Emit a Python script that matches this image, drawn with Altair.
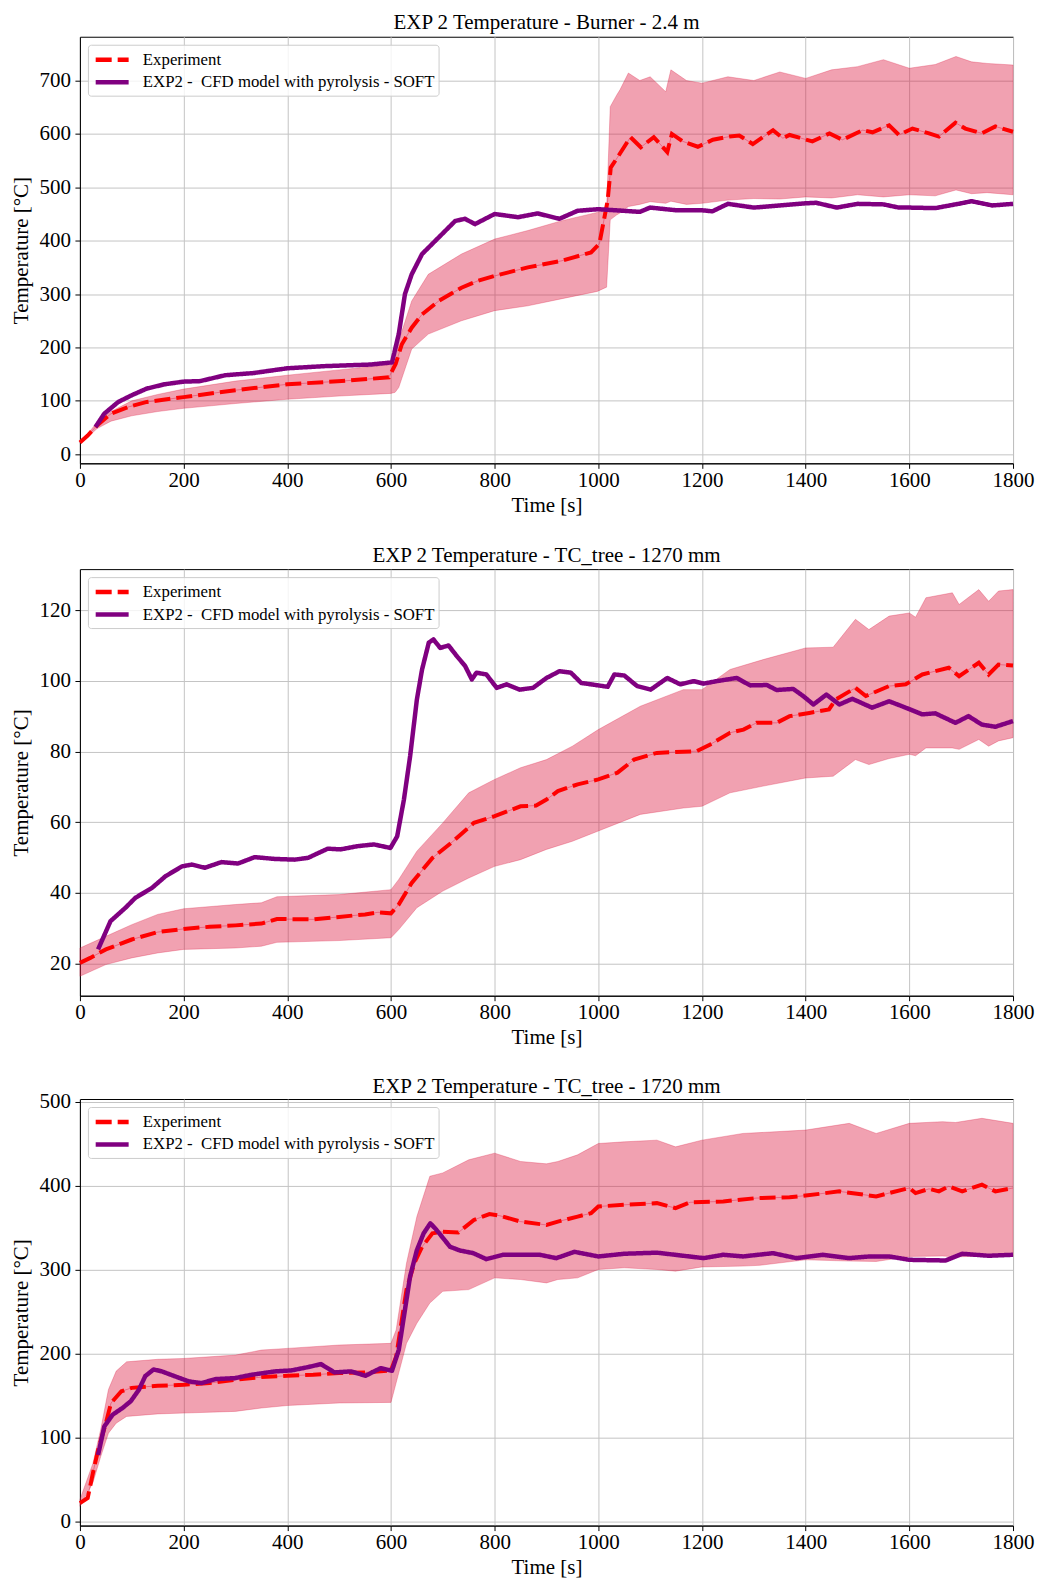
import altair as alt
import pandas as pd

EXP_NAME = "Experiment"
CFD_NAME = "EXP2 - \u00a0CFD model with pyrolysis - SOFT"

# ---------------- Panel 1 : Burner - 2.4 m ----------------
p1_exp_t = [0, 15, 33, 60, 95, 129, 200, 300, 400, 505, 596, 609, 621, 640, 660, 692, 736, 768, 800, 864, 928, 986, 1002, 1018, 1024, 1037, 1062, 1082, 1107, 1133, 1142, 1163, 1192, 1221, 1253, 1272, 1298, 1337, 1356, 1369, 1413, 1446, 1471, 1510, 1529, 1561, 1580, 1606, 1638, 1657, 1689, 1708, 1740, 1766, 1800]
p1_exp_v = [22, 35, 54, 76, 89, 98, 107, 120, 131, 137, 144, 169, 206, 237, 262, 287, 312, 325, 334, 350, 362, 378, 394, 475, 537, 556, 594, 575, 594, 566, 600, 586, 576, 589, 595, 597, 581, 607, 592, 598, 586, 601, 589, 607, 603, 616, 598, 610, 601, 595, 621, 610, 601, 614, 604]
p1_band_t = [0, 15, 33, 60, 100, 150, 200, 300, 400, 500, 600, 608, 615, 640, 672, 736, 800, 864, 928, 998, 1016, 1023, 1035, 1042, 1058, 1080, 1100, 1130, 1140, 1170, 1200, 1250, 1300, 1350, 1400, 1450, 1500, 1550, 1600, 1650, 1690, 1720, 1750, 1800]
p1_band_lo = [21, 32, 48, 62, 72, 80, 86, 95, 103, 109, 114, 116, 125, 197, 225, 250, 269, 278, 291, 305, 313, 439, 448, 452, 464, 468, 473, 470, 474, 468, 470, 476, 479, 478, 482, 480, 486, 482, 486, 484, 495, 488, 490, 486]
p1_band_hi = [23, 38, 60, 80, 100, 112, 122, 137, 148, 158, 168, 172, 212, 287, 337, 375, 403, 419, 437, 453, 460, 651, 672, 683, 714, 700, 707, 679, 720, 700, 695, 707, 700, 716, 704, 720, 726, 739, 723, 730, 745, 735, 732, 729]
p1_cfd_t = [30, 47, 74, 101, 129, 163, 200, 232, 280, 334, 400, 471, 560, 602, 615, 627, 640, 660, 692, 724, 743, 762, 800, 845, 883, 925, 960, 1000, 1080, 1100, 1150, 1200, 1220, 1250, 1300, 1400, 1420, 1460, 1500, 1550, 1580, 1600, 1650, 1700, 1720, 1760, 1800]
p1_cfd_v = [51, 76, 98, 111, 123, 131, 136, 137, 148, 152, 161, 165, 168, 172, 225, 300, 337, 375, 406, 437, 441, 431, 450, 444, 451, 441, 456, 459, 454, 462, 457, 457, 455, 469, 462, 470, 471, 462, 469, 468, 462, 462, 461, 470, 474, 466, 469]

# ---------------- Panel 2 : TC_tree - 1270 mm ----------------
p2_exp_t = [0, 20, 50, 100, 150, 200, 250, 300, 350, 380, 450, 500, 550, 575, 600, 615, 640, 680, 720, 760, 800, 850, 880, 900, 922, 960, 1000, 1037, 1069, 1113, 1190, 1216, 1254, 1280, 1305, 1344, 1369, 1407, 1445, 1458, 1496, 1516, 1561, 1593, 1625, 1676, 1696, 1734, 1753, 1772, 1800]
p2_exp_v = [20.2, 21.6, 24, 26.8, 28.9, 29.8, 30.4, 30.8, 31.3, 32.6, 32.5, 33.2, 33.9, 34.5, 34.2, 36.7, 42.8, 49.9, 54.6, 59.8, 61.7, 64.5, 64.7, 66.4, 68.8, 70.7, 72.1, 74, 77.7, 79.6, 80.1, 82, 85.3, 86.2, 88.1, 88.1, 90, 90.9, 91.9, 94.7, 98, 95.7, 98.5, 99, 101.8, 103.7, 101.3, 105.1, 101.8, 104.6, 104.3]
p2_band_t = [0, 50, 100, 150, 200, 300, 350, 380, 500, 600, 615, 650, 700, 750, 800, 850, 900, 950, 1000, 1081, 1164, 1200, 1254, 1318, 1400, 1453, 1496, 1522, 1561, 1600, 1612, 1632, 1683, 1696, 1734, 1753, 1772, 1800]
p2_band_lo = [16.4, 19.7, 21.6, 23, 24, 24.4, 24.9, 26, 26.5, 27.3, 29.6, 35.8, 40.5, 44.2, 47.5, 49.4, 52.3, 54.6, 57.5, 62.2, 64, 64.5, 68.3, 70.2, 72.5, 73, 77.7, 76.3, 78, 79.2, 78.8, 81, 81, 80.6, 83.4, 81.5, 83, 83.9]
p2_band_hi = [24.4, 27.7, 31, 33.9, 35.5, 36.7, 37.2, 38.9, 39.5, 40.9, 43.8, 51.8, 59.8, 68.3, 72.1, 75.4, 77.7, 81.5, 86.2, 92.8, 97.5, 97.5, 103.2, 106, 109.3, 109.5, 117.4, 114.5, 118.3, 119.2, 118, 123.5, 124.9, 121.6, 125.8, 122.5, 125.4, 125.8]
p2_cfd_t = [35, 59, 88, 107, 139, 165, 197, 216, 241, 273, 305, 337, 376, 414, 440, 478, 503, 535, 567, 599, 612, 625, 637, 650, 660, 673, 682, 695, 711, 727, 743, 756, 765, 784, 804, 823, 848, 874, 900, 925, 947, 967, 1000, 1018, 1031, 1050, 1075, 1101, 1133, 1158, 1184, 1203, 1228, 1267, 1293, 1325, 1344, 1376, 1395, 1415, 1440, 1465, 1490, 1528, 1561, 1586, 1625, 1650, 1689, 1714, 1740, 1766, 1800]
p2_cfd_v = [24, 32, 35.8, 38.6, 41.4, 44.7, 47.5, 48, 47.1, 48.7, 48.3, 50.1, 49.6, 49.4, 49.9, 52.5, 52.3, 53.2, 53.7, 52.7, 56, 66.4, 78.7, 94.7, 103.2, 110.8, 111.7, 109.3, 110, 107, 104.2, 100.4, 102.3, 101.8, 98, 99, 97.5, 98, 100.8, 102.7, 102.3, 99.4, 98.7, 98.3, 101.8, 101.5, 98.5, 97.5, 100.8, 99, 99.9, 99.2, 99.9, 100.8, 98.7, 98.8, 97.4, 97.7, 95.7, 93.3, 96.1, 93.3, 94.9, 92.4, 94.2, 92.8, 90.5, 90.8, 88.1, 90, 87.6, 87, 88.6]

# ---------------- Panel 3 : TC_tree - 1720 mm ----------------
p3_exp_t = [0, 15, 25, 35, 50, 60, 80, 100, 150, 200, 250, 300, 350, 400, 450, 500, 550, 600, 610, 620, 630, 645, 660, 680, 700, 730, 760, 790, 810, 850, 900, 922, 960, 986, 1000, 1050, 1113, 1149, 1177, 1241, 1305, 1369, 1400, 1465, 1536, 1561, 1600, 1612, 1638, 1657, 1676, 1702, 1740, 1766, 1800]
p3_exp_v = [21.8, 27.8, 57.5, 85, 117, 141, 155, 159, 161.5, 162.7, 164.7, 168.7, 171.8, 173.4, 174.6, 176.6, 177.4, 179.8, 196, 236, 276, 307.5, 327, 343, 345, 344, 359, 366, 364, 357, 353, 357, 363, 367, 375, 377, 379, 373, 380, 381, 385, 386, 388, 393, 387, 391, 397, 391, 396, 393, 399, 393, 401, 393, 397]
p3_band_t = [0, 25, 40, 55, 70, 90, 150, 200, 300, 350, 400, 500, 600, 610, 630, 650, 675, 700, 750, 800, 850, 900, 922, 960, 1000, 1050, 1113, 1149, 1200, 1279, 1312, 1400, 1484, 1536, 1600, 1664, 1689, 1740, 1800]
p3_band_lo = [18, 46, 77, 105, 117, 125, 128, 129, 131, 135, 138, 141, 141.7, 165, 212, 236, 260, 274, 276, 290, 288, 284, 288, 290, 300, 302, 300, 298, 303, 304, 305, 311.5, 310, 309.5, 315.5, 316, 315, 316, 315.5]
p3_band_hi = [26, 69, 109, 157, 179, 190, 193, 194, 198, 204, 206, 210, 212, 228, 307.5, 363, 411, 415, 430.6, 438.5, 428.6, 425.8, 428.6, 436.5, 450, 452, 454, 446, 454, 462, 463, 466, 474, 462, 474, 476, 475, 480, 474]
p3_cfd_t = [35, 47, 63, 82, 98, 114, 126, 142, 158, 184, 210, 235, 261, 299, 331, 376, 408, 440, 465, 491, 523, 551, 580, 602, 615, 628, 637, 650, 663, 676, 688, 714, 733, 759, 784, 816, 855, 887, 919, 954, 1000, 1050, 1113, 1203, 1241, 1279, 1337, 1382, 1433, 1484, 1523, 1561, 1600, 1670, 1702, 1753, 1800]
p3_cfd_v = [79, 113, 127, 135, 143, 157, 173, 181, 178.6, 172.6, 166.7, 164.7, 169.4, 170.6, 174.6, 178.6, 179.8, 183.7, 187.3, 177.4, 178.6, 173.4, 182.5, 179.4, 204, 256, 292, 323, 343, 355, 347, 327, 322.6, 319.4, 312.3, 317.5, 317.5, 317.5, 313.5, 321, 315.5, 318.7, 320, 313.5, 317.5, 315.5, 319.4, 313.5, 317.5, 313.5, 315.5, 315.5, 311.5, 310.7, 318.7, 316.3, 317.5]

titles = [
    "EXP 2 Temperature - Burner - 2.4 m",
    "EXP 2 Temperature - TC_tree - 1270 mm",
    "EXP 2 Temperature - TC_tree - 1720 mm",
]
y_domains = [[-17, 782], [10.9, 131.6], [-5, 503]]
y_ticks = [[0, 100, 200, 300, 400, 500, 600, 700],
           [20, 40, 60, 80, 100, 120],
           [0, 100, 200, 300, 400, 500]]
title_offsets = [3.5, 3.5, -6]
x_ticks = [0, 200, 400, 600, 800, 1000, 1200, 1400, 1600, 1800]

FONT = "Liberation Serif"
W, H = 934, 427


def panel(title, et, ev, bt, blo, bhi, ct, cv, ydom, yt, toff):
    exp_df = pd.DataFrame({"t": et, "v": ev, "series": EXP_NAME})
    cfd_df = pd.DataFrame({"t": ct, "v": cv, "series": CFD_NAME})
    band_df = pd.DataFrame({"t": bt, "lo": blo, "hi": bhi})

    x = alt.X("t:Q", scale=alt.Scale(domain=[0, 1800], nice=False),
              axis=alt.Axis(values=x_ticks, title="Time [s]", format="d"))
    y = alt.Y("v:Q", scale=alt.Scale(domain=ydom, nice=False, zero=False),
              axis=alt.Axis(values=yt, title="Temperature [°C]", format="d"))
    yb = alt.Y("lo:Q", scale=alt.Scale(domain=ydom, nice=False, zero=False),
               axis=alt.Axis(values=yt, title="Temperature [°C]", format="d"))

    color = alt.Color("series:N",
                      scale=alt.Scale(domain=[EXP_NAME, CFD_NAME], range=["#ff0000", "#800080"]),
                      legend=alt.Legend(title=None))
    dash = alt.StrokeDash("series:N",
                          scale=alt.Scale(domain=[EXP_NAME, CFD_NAME], range=[[16, 6], [1, 0]]),
                          legend=alt.Legend(title=None))

    band = alt.Chart(band_df).mark_area(
        fill="#dc143c", fillOpacity=0.4, stroke="#dc143c", strokeOpacity=0.35, strokeWidth=0.8
    ).encode(x=x, y=yb, y2="hi:Q")

    thin = alt.Chart(exp_df).mark_line(color="#dc143c", strokeWidth=0.8, opacity=0.5).encode(x=x, y=y)

    exp_line = alt.Chart(exp_df).mark_line(strokeWidth=4).encode(
        x=x, y=y, color=color, strokeDash=dash)
    cfd_line = alt.Chart(cfd_df).mark_line(strokeWidth=4.5, strokeJoin="round").encode(
        x=x, y=y, color=color, strokeDash=dash)

    return alt.layer(band, thin, exp_line, cfd_line).properties(
        width=W, height=H,
        title=alt.TitleParams(title, fontSize=21, font=FONT, fontWeight="normal",
                              color="black", offset=toff, anchor="middle", frame="group"),
    )


c1 = panel(titles[0], p1_exp_t, p1_exp_v, p1_band_t, p1_band_lo, p1_band_hi, p1_cfd_t, p1_cfd_v, y_domains[0], y_ticks[0], title_offsets[0])
c2 = panel(titles[1], p2_exp_t, p2_exp_v, p2_band_t, p2_band_lo, p2_band_hi, p2_cfd_t, p2_cfd_v, y_domains[1], y_ticks[1], title_offsets[1])
c3 = panel(titles[2], p3_exp_t, p3_exp_v, p3_band_t, p3_band_lo, p3_band_hi, p3_cfd_t, p3_cfd_v, y_domains[2], y_ticks[2], title_offsets[2])

lower = alt.vconcat(c2, c3, spacing=26.4).resolve_scale(
    color="independent", strokeDash="independent"
).resolve_legend(color="independent", strokeDash="independent")

chart = alt.vconcat(c1, lower, spacing=27.9).resolve_scale(
    color="independent", strokeDash="independent"
).resolve_legend(color="independent", strokeDash="independent").properties(
    padding={"left": 2, "top": 3, "right": 0, "bottom": 0}
).configure_view(
    stroke="black", strokeWidth=1
).configure_axis(
    labelFont=FONT, titleFont=FONT, labelFontSize=21, titleFontSize=21,
    titleFontWeight="normal", labelColor="black", titleColor="black",
    domainColor="black", tickColor="black", tickSize=5, gridColor="#c4c4c4", gridWidth=1,
).configure_axisX(
    labelPadding=1.3, titlePadding=4, labelFlush=False
).configure_axisY(
    labelPadding=4.5, titlePadding=7
).configure_legend(
    orient="top-left", offset=8, padding=4, fillColor="rgba(255,255,255,0.8)",
    strokeColor="#cccccc", cornerRadius=3, labelFont=FONT, labelFontSize=16.8,
    labelColor="black", symbolType="M-0.85,0L3.03,0", symbolSize=289, symbolStrokeWidth=4.5,
    labelOffset=29, rowPadding=2.5, labelLimit=500,
)

chart.save("out.html", embed_options={"renderer": "svg", "actions": False})
